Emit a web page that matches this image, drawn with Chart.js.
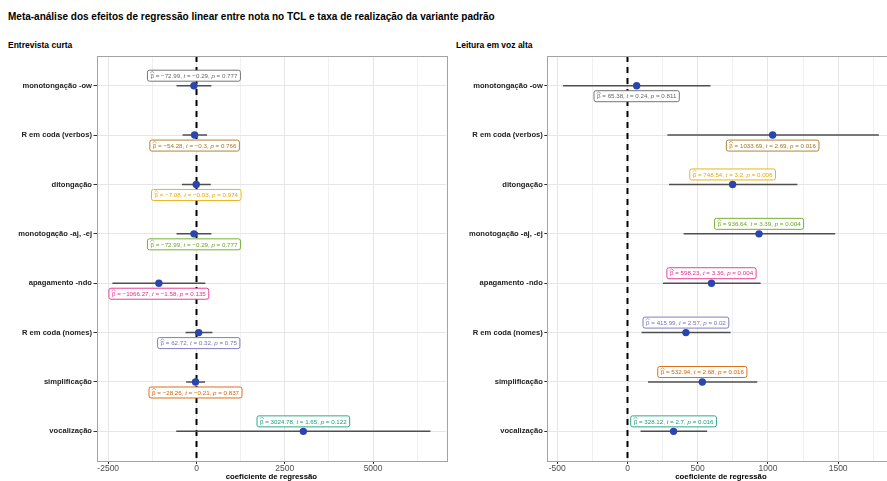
<!DOCTYPE html>
<html>
<head>
<meta charset="utf-8">
<script src="https://cdn.jsdelivr.net/npm/chart.js@4.4.1/dist/chart.umd.min.js"></script>
<style>
  html, body { margin: 0; padding: 0; width: 887px; height: 481px; overflow: hidden; background: #fff; }
  body { position: relative; font-family: "Liberation Sans", Arial, sans-serif; }
  .txt { position: absolute; font-weight: bold; color: #000; white-space: nowrap; line-height: 1; }
  #mainTitle { left: 8px; top: 12px; font-size: 10px; }
  .panelTitle { top: 41px; font-size: 8.5px; }
  .panel { position: absolute; top: 50px; width: 450px; height: 431px; }
</style>
</head>
<body>
<div id="mainTitle" class="txt">Meta-análise dos efeitos de regressão linear entre nota no TCL e taxa de realização da variante padrão</div>
<div class="txt panelTitle" style="left:8px">Entrevista curta</div>
<div class="txt panelTitle" style="left:456px">Leitura em voz alta</div>
<div class="panel" style="left:0px"><canvas id="curta" width="450" height="431"></canvas></div>
<div class="panel" style="left:450px"><canvas id="leitura" width="450" height="431"></canvas></div>

<script>
// Variant categories, top to bottom
const categories = [
  'monotongação -ow', 'R em coda (verbos)', 'ditongação', 'monotogação -aj, -ej',
  'apagamento -ndo', 'R em coda (nomes)', 'simplificação', 'vocalização'
];

// Entrevista curta: estimates, t, p and 95% interval
const curtaBeta = [-72.99, -54.28, -7.08, -72.99, -1066.27, 62.72, -28.26, 3024.78];
const curtaT    = [-0.29, -0.3, -0.03, -0.29, -1.58, 0.32, -0.21, 1.65];
const curtaP    = [0.777, 0.766, 0.974, 0.777, 0.135, 0.75, 0.837, 0.122];
const curtaLow  = [-566, -395, -414, -566, -2382, -310, -293, -575];
const curtaHigh = [420, 299, 403, 420, 250, 451, 242, 6623];

// Leitura em voz alta: estimates, t, p and 95% interval
const leituraBeta = [65.38, 1033.69, 748.54, 936.64, 598.23, 415.99, 532.94, 328.12];
const leituraT    = [0.24, 2.69, 3.2, 3.39, 3.36, 2.57, 2.68, 2.7];
const leituraP    = [0.811, 0.016, 0.006, 0.004, 0.004, 0.02, 0.016, 0.016];
const leituraLow  = [-459, 284, 296, 400, 253, 100, 146, 93];
const leituraHigh = [591, 1790, 1210, 1479, 948, 734, 924, 567];

// Axis ticks
const curtaTicks = [-2500, 0, 2500, 5000];
const curtaMinorTicks = [-1250, 1250, 3750, 6250];
const leituraTicks = [-500, 0, 500, 1000, 1500];
const leituraMinorTicks = [-250, 250, 750, 1250, 1750];

// Label colours (Dark2, reversed) and which side of the point each label sits on
const labelColors = ['#666666', '#A6761D', '#E6AB02', '#66A61E', '#E7298A', '#7570B3', '#D95F02', '#1B9E77'];
const curtaSides   = ['above', 'below', 'below', 'below', 'below', 'below', 'below', 'above'];
const leituraSides = ['below', 'below', 'above', 'above', 'above', 'above', 'above', 'above'];

const FONT = '"Liberation Sans", Arial, sans-serif';
const fmt = v => String(v).replace('-', '\u2212');

function roundRect(ctx, x, y, w, h, r) {
  ctx.beginPath();
  ctx.moveTo(x + r, y);
  ctx.lineTo(x + w - r, y);
  ctx.arcTo(x + w, y, x + w, y + r, r);
  ctx.lineTo(x + w, y + h - r);
  ctx.arcTo(x + w, y + h, x + w - r, y + h, r);
  ctx.lineTo(x + r, y + h);
  ctx.arcTo(x, y + h, x, y + h - r, r);
  ctx.lineTo(x, y + r);
  ctx.arcTo(x, y, x + r, y, r);
  ctx.closePath();
}

const forestPlugin = {
  id: 'forest',
  beforeDatasetsDraw(chart, args, o) {
    const { ctx, chartArea: a, scales: { x, y } } = chart;
    ctx.save();
    ctx.beginPath();
    ctx.rect(a.left, a.top, a.right - a.left, a.bottom - a.top);
    ctx.clip();
    // reference line at zero
    const x0 = x.getPixelForValue(0);
    ctx.strokeStyle = '#000';
    ctx.lineWidth = 2;
    ctx.setLineDash([6, 5]);
    ctx.beginPath();
    ctx.moveTo(x0, a.top);
    ctx.lineTo(x0, a.bottom);
    ctx.stroke();
    ctx.setLineDash([]);
    // confidence intervals
    ctx.strokeStyle = '#4f4f4f';
    ctx.lineWidth = 1.5;
    o.low.forEach((lo, i) => {
      const py = y.getPixelForValue(i + 1);
      ctx.beginPath();
      ctx.moveTo(x.getPixelForValue(lo), py);
      ctx.lineTo(x.getPixelForValue(o.high[i]), py);
      ctx.stroke();
    });
    ctx.restore();
  },
  afterDatasetsDraw(chart, args, o) {
    const { ctx, scales: { x, y } } = chart;
    const size = 6.2;
    const reg = `${size}px ${FONT}`;
    const ita = `italic ${size}px ${FONT}`;
    ctx.save();
    ctx.textBaseline = 'middle';
    o.beta.forEach((b, i) => {
      const parts = [
        { s: '\u03B2', f: reg, hat: true },
        { s: ' = ' + fmt(b) + ', ', f: reg },
        { s: 't', f: ita },
        { s: ' = ' + fmt(o.t[i]) + ', ', f: reg },
        { s: 'p', f: ita },
        { s: ' = ' + fmt(o.p[i]), f: reg }
      ];
      let w = 0;
      parts.forEach(p => { ctx.font = p.f; p.w = ctx.measureText(p.s).width; w += p.w; });
      const padX = 3, h = 11;
      const px = x.getPixelForValue(b);
      const py = y.getPixelForValue(i + 1);
      const cy = o.sides[i] === 'above' ? py - 10 : py + 10.5;
      const bx = px - w / 2 - padX, by = cy - h / 2;
      const col = labelColors[i];
      roundRect(ctx, bx, by, w + 2 * padX, h, 2);
      ctx.fillStyle = '#fff';
      ctx.fill();
      ctx.strokeStyle = col;
      ctx.lineWidth = 0.9;
      ctx.stroke();
      ctx.fillStyle = col;
      let tx = bx + padX;
      parts.forEach(p => {
        ctx.font = p.f;
        ctx.fillText(p.s, tx, cy + 0.5);
        if (p.hat) {
          ctx.beginPath();
          ctx.moveTo(tx - 0.3, cy - 2.6);
          ctx.lineTo(tx + p.w / 2, cy - 4.3);
          ctx.lineTo(tx + p.w + 0.3, cy - 2.6);
          ctx.strokeStyle = col;
          ctx.lineWidth = 0.6;
          ctx.stroke();
        }
        tx += p.w;
      });
    });
    ctx.restore();
  },
  afterDraw(chart) {
    const { ctx, chartArea: a } = chart;
    ctx.save();
    ctx.strokeStyle = '#a3a3a3';
    ctx.lineWidth = 1;
    ctx.strokeRect(Math.round(a.left) + 0.5, Math.round(a.top) + 0.5,
      Math.round(a.right - a.left), Math.round(a.bottom - a.top));
    ctx.restore();
  }
};

function makePanel(id, cfg) {
  const isMajor = v => cfg.major.includes(v);
  return new Chart(document.getElementById(id), {
    type: 'scatter',
    data: {
      datasets: [{
        data: cfg.beta.map((b, i) => ({ x: b, y: i + 1 })),
        backgroundColor: '#2A45AE',
        borderColor: '#2A45AE',
        borderWidth: 0,
        pointRadius: 3.7,
        pointHoverRadius: 3.7
      }]
    },
    options: {
      responsive: false,
      animation: false,
      events: [],
      layout: { padding: { top: 4, right: cfg.padRight, left: 0, bottom: 0 } },
      plugins: {
        legend: { display: false },
        tooltip: { enabled: false },
        forest: {
          beta: cfg.beta, t: cfg.t, p: cfg.p, low: cfg.low, high: cfg.high, sides: cfg.sides
        }
      },
      scales: {
        x: {
          type: 'linear',
          min: cfg.min,
          max: cfg.max,
          afterBuildTicks(s) {
            s.ticks = cfg.major.concat(cfg.minor).sort((a, b) => a - b).map(v => ({ value: v }));
          },
          afterFit(s) { s.height = 20; },
          border: { display: false },
          grid: {
            color: c => (c.tick && isMajor(c.tick.value)) ? '#e6e6e6' : '#f0f0f0',
            lineWidth: 1,
            tickLength: 3,
            tickColor: c => (c.tick && isMajor(c.tick.value)) ? '#333333' : 'rgba(0,0,0,0)'
          },
          ticks: {
            autoSkip: false,
            maxRotation: 0,
            padding: 0,
            color: '#4d4d4d',
            font: { family: FONT, size: 8.5 },
            callback: v => isMajor(v) ? String(v) : ''
          },
          title: {
            display: true,
            text: 'coeficiente de regressão',
            color: '#000',
            padding: 0,
            font: { family: FONT, size: 7.8, weight: 'bold', lineHeight: 1 }
          }
        },
        y: {
          type: 'linear',
          reverse: true,
          min: 0.4,
          max: 8.6,
          afterBuildTicks(s) { s.ticks = categories.map((c, i) => ({ value: i + 1 })); },
          afterFit(s) { s.width = cfg.yWidth; },
          border: { display: false },
          grid: { color: '#e6e6e6', lineWidth: 1, tickLength: 3, tickColor: '#333333' },
          ticks: {
            autoSkip: false,
            padding: 1.5,
            color: '#222',
            font: { family: FONT, size: 7.6, weight: 'bold' },
            callback: v => categories[v - 1]
          }
        }
      }
    },
    plugins: [forestPlugin]
  });
}

makePanel('curta', {
  beta: curtaBeta, t: curtaT, p: curtaP, low: curtaLow, high: curtaHigh, sides: curtaSides,
  min: -2832, max: 7073, major: curtaTicks, minor: curtaMinorTicks, yWidth: 96.5, padRight: 2.5
});
makePanel('leitura', {
  beta: leituraBeta, t: leituraT, p: leituraP, low: leituraLow, high: leituraHigh, sides: leituraSides,
  min: -571, max: 1902, major: leituraTicks, minor: leituraMinorTicks, yWidth: 97.3, padRight: 5.4
});
</script>
</body>
</html>
